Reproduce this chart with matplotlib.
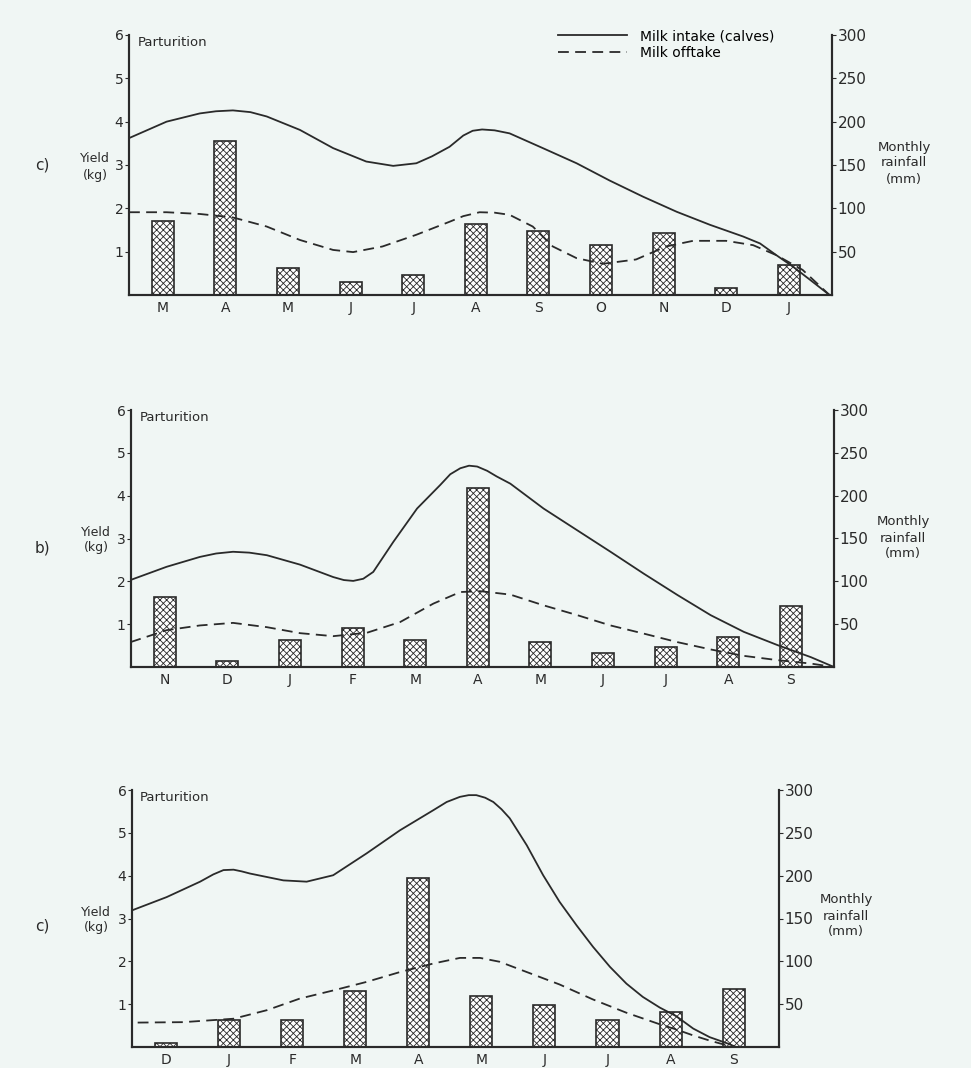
import matplotlib
matplotlib.use("Agg")
import matplotlib.pyplot as plt
from matplotlib.lines import Line2D

plt.rcParams['font.family'] = ['DejaVu Sans']
plt.rcParams['hatch.linewidth'] = 0.6

# ---- panel a (top) ----
months_a = ['M', 'A', 'M', 'J', 'J', 'A', 'S', 'O', 'N', 'D', 'J']
rain_a = [85, 178, 31, 15, 23, 82, 74, 58, 72, 8, 35]
intake_a_x = [-0.54, 0.06, 0.59, 0.85, 1.12, 1.40, 1.66, 2.19, 2.72, 3.25, 3.68, 4.05, 4.30, 4.58,
              4.80, 4.95, 5.10, 5.30, 5.54, 6.07, 6.61, 7.14, 7.67, 8.21, 8.74, 9.27, 9.54, 9.80,
              10.07, 10.34, 10.65]
intake_a_y = [3.62, 4.00, 4.19, 4.24, 4.26, 4.22, 4.12, 3.81, 3.39, 3.08, 2.98, 3.04, 3.20, 3.42,
              3.68, 3.79, 3.82, 3.80, 3.73, 3.39, 3.04, 2.64, 2.27, 1.92, 1.62, 1.35, 1.19, 0.92,
              0.65, 0.35, 0.0]
offtake_a_x = [-0.54, 0.06, 0.59, 1.12, 1.66, 2.19, 2.72, 3.04, 3.51, 4.05, 4.58, 4.80, 5.06, 5.30,
               5.54, 5.91, 6.23, 6.61, 7.03, 7.56, 8.04, 8.47, 9.00, 9.43, 9.80, 10.22, 10.65]
offtake_a_y = [1.91, 1.91, 1.87, 1.79, 1.58, 1.27, 1.04, 0.99, 1.12, 1.39, 1.69, 1.82, 1.91, 1.90,
               1.85, 1.58, 1.12, 0.85, 0.72, 0.82, 1.12, 1.25, 1.25, 1.15, 0.92, 0.58, 0.0]

# ---- panel b (middle) ----
months_b = ['N', 'D', 'J', 'F', 'M', 'A', 'M', 'J', 'J', 'A', 'S']
rain_b = [82, 7, 32, 46, 32, 209, 29, 16, 23, 35, 71]
intake_b_x = [-0.55, 0.03, 0.56, 0.82, 1.09, 1.35, 1.63, 2.16, 2.69, 2.86, 3.01, 3.17, 3.33, 3.65,
              4.03, 4.40, 4.56, 4.72, 4.86, 4.99, 5.15, 5.30, 5.52, 6.05, 6.59, 7.12, 7.65, 8.19,
              8.72, 9.25, 9.79, 10.32, 10.69]
intake_b_y = [2.03, 2.34, 2.57, 2.65, 2.69, 2.67, 2.61, 2.39, 2.10, 2.03, 2.01, 2.06, 2.22, 2.92,
              3.70, 4.25, 4.50, 4.64, 4.70, 4.68, 4.58, 4.45, 4.28, 3.70, 3.19, 2.69, 2.18, 1.68,
              1.21, 0.82, 0.51, 0.23, 0.0]
offtake_b_x = [-0.55, 0.03, 0.56, 1.09, 1.63, 2.16, 2.69, 3.23, 3.76, 4.29, 4.72, 5.04, 5.52, 6.05,
               6.59, 7.12, 7.65, 8.19, 8.72, 9.25, 9.79, 10.32, 10.69]
offtake_b_y = [0.58, 0.86, 0.97, 1.03, 0.93, 0.79, 0.72, 0.80, 1.05, 1.48, 1.75, 1.77, 1.69, 1.44,
               1.21, 0.97, 0.78, 0.58, 0.41, 0.26, 0.16, 0.08, 0.0]

# ---- panel c (bottom) ----
months_c = ['D', 'J', 'F', 'M', 'A', 'M', 'J', 'J', 'A', 'S']
rain_c = [5, 31, 32, 65, 197, 59, 49, 31, 41, 68]
intake_c_x = [-0.54, 0.01, 0.54, 0.75, 0.91, 1.07, 1.20, 1.33, 1.86, 2.23, 2.65, 3.18, 3.71, 4.24,
              4.45, 4.66, 4.80, 4.92, 5.06, 5.19, 5.32, 5.45, 5.72, 5.98, 6.24, 6.51, 6.77, 7.04,
              7.30, 7.56, 7.83, 8.09, 8.36, 8.62, 8.89, 9.04]
intake_c_y = [3.19, 3.50, 3.86, 4.03, 4.13, 4.14, 4.10, 4.05, 3.89, 3.86, 4.01, 4.52, 5.06, 5.53,
              5.72, 5.84, 5.88, 5.88, 5.82, 5.72, 5.55, 5.34, 4.71, 4.01, 3.39, 2.84, 2.34, 1.87,
              1.48, 1.17, 0.92, 0.72, 0.43, 0.23, 0.09, 0.0]
offtake_c_x = [-0.45, 0.27, 1.07, 1.60, 2.12, 2.65, 3.18, 3.71, 4.24, 4.66, 4.98, 5.29, 5.72, 6.24,
               6.77, 7.30, 7.83, 8.09, 8.36, 8.62, 8.99]
offtake_c_y = [0.57, 0.58, 0.66, 0.86, 1.13, 1.32, 1.52, 1.75, 1.95, 2.08, 2.08, 1.99, 1.75, 1.46,
               1.11, 0.80, 0.53, 0.41, 0.27, 0.15, 0.0]

W, H = 971, 1068
bg = '#f0f6f4'
ink = '#2a2a2a'
fig = plt.figure(figsize=(W / 100, H / 100), dpi=100, facecolor=bg)


def fx(px):
    return px / W


def fy(py):
    return 1 - py / H


def panel(rect, months, rain, ix, iy, ox, oy, xmax, tag, ytxt, rtxt):
    ax = fig.add_axes(rect)
    ax2 = ax.twinx()
    # lines above bars
    ax.set_zorder(ax2.get_zorder() + 1)
    ax.patch.set_visible(False)
    ax2.patch.set_visible(False)

    pos = list(range(len(months)))
    ax2.bar(pos, rain, width=0.35, color='white', edgecolor=ink, linewidth=1.2,
            hatch='xxxxx')
    ax.plot(ix, iy, color=ink, lw=1.3)
    ax.plot(ox, oy, color=ink, lw=1.3, linestyle=(0, (6, 3.5)))

    ax.set_xlim(-0.54, xmax)
    ax.set_ylim(0, 6)
    ax2.set_ylim(0, 300)
    ax.set_xticks(pos)
    ax.set_xticklabels(months)
    ax.set_yticks([1, 2, 3, 4, 5, 6])
    ax2.set_yticks([50, 100, 150, 200, 250, 300])
    for a in (ax, ax2):
        a.spines['top'].set_visible(False)
        for s in a.spines.values():
            s.set_linewidth(1.5)
            s.set_color(ink)
    ax.tick_params(axis='x', length=0, pad=4, labelsize=10, colors=ink)
    ax.tick_params(axis='y', direction='out', length=3, pad=1, labelsize=10, colors=ink)
    ax2.tick_params(axis='y', direction='out', length=3, pad=1, labelsize=11, colors=ink)

    ax.text(0.012, 0.995, 'Parturition', transform=ax.transAxes, va='top', ha='left',
            fontsize=9.5, color=ink)
    fig.text(fx(tag[0]), fy(tag[1]), tag[2], fontsize=11, color=ink, va='center')
    fig.text(fx(ytxt[0]), fy(ytxt[1]), 'Yield\n(kg)', fontsize=9, color=ink,
             va='center', ha='center', linespacing=1.3)
    fig.text(fx(rtxt[0]), fy(rtxt[1]), 'Monthly\nrainfall\n(mm)', fontsize=9.5, color=ink,
             va='center', ha='center', linespacing=1.3)
    return ax


ax_a = panel([fx(129), fy(295), fx(703), 260 / H], months_a, rain_a,
             intake_a_x, intake_a_y, offtake_a_x, offtake_a_y, 10.69,
             (35, 165, 'c)'), (95, 167), (904, 163))
panel([fx(131), fy(667), fx(703), 257 / H], months_b, rain_b,
      intake_b_x, intake_b_y, offtake_b_x, offtake_b_y, 10.69,
      (35, 548, 'b)'), (96, 540), (903, 538))
panel([fx(132), fy(1047), fx(647), 257 / H], months_c, rain_c,
      intake_c_x, intake_c_y, offtake_c_x, offtake_c_y, 9.72,
      (35, 926, 'c)'), (96, 920), (846, 916))

handles = [Line2D([], [], color=ink, lw=1.3),
           Line2D([], [], color=ink, lw=1.3, linestyle=(0, (6, 3.5)))]
ax_a.legend(handles, ['Milk intake (calves)', 'Milk offtake'], loc='upper left',
            bbox_to_anchor=(fx(558), fy(29)), bbox_transform=fig.transFigure,
            frameon=False, fontsize=10, handlelength=5.0, handletextpad=0.9,
            borderpad=0, borderaxespad=0, labelspacing=0.2)

fig.savefig('out.png', dpi=100, facecolor=bg)
